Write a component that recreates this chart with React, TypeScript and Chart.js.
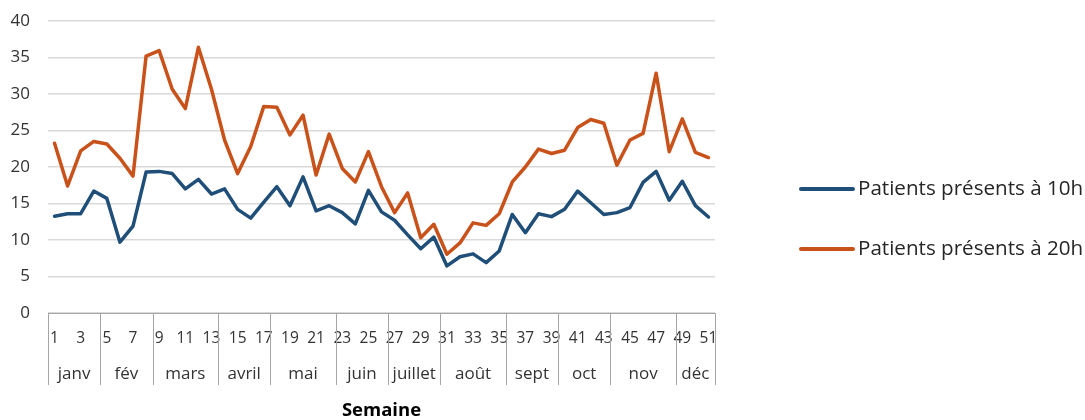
import React, { useEffect, useRef } from "react";
import { Chart, registerables } from "chart.js";

Chart.register(...registerables);

const weeks: string[] = Array.from({ length: 51 }, (_, i) => String(i + 1));

const months: string[] = ["janv", "fév", "mars", "avril", "mai", "juin", "juillet", "août", "sept", "oct", "nov", "déc"];
const monthWeekCounts: number[] = [4, 4, 5, 4, 5, 4, 4, 5, 4, 4, 5, 3];

const patients10h: number[] = [
  13.25, 13.6, 13.6, 16.7, 15.7, 9.7, 11.9, 19.3, 19.4, 19.1,
  17.0, 18.3, 16.3, 17.0, 14.2, 13.0, 15.2, 17.3, 14.7, 18.65,
  14.0, 14.7, 13.75, 12.2, 16.8, 13.85, 12.7, 10.7, 8.8, 10.4,
  6.45, 7.7, 8.1, 6.9, 8.5, 13.5, 11.0, 13.6, 13.2, 14.2,
  16.7, 15.1, 13.5, 13.75, 14.45, 17.9, 19.4, 15.45, 18.05, 14.7,
  13.15,
];

const patients20h: number[] = [
  23.25, 17.4, 22.2, 23.5, 23.15, 21.2, 18.75, 35.2, 35.95, 30.65,
  28.0, 36.4, 30.65, 23.7, 19.1, 22.8, 28.3, 28.2, 24.4, 27.1,
  18.9, 24.5, 19.8, 17.95, 22.1, 17.3, 13.75, 16.45, 10.3, 12.15,
  8.05, 9.6, 12.35, 12.0, 13.6, 17.95, 20.0, 22.45, 21.85, 22.3,
  25.4, 26.5, 26.0, 20.25, 23.7, 24.6, 32.85, 22.1, 26.6, 22.0,
  21.3,
];

const seriesLabels: string[] = ["Patients présents à 10h", "Patients présents à 20h"];
const seriesColors: string[] = ["#1F4E79", "#C9511A"];

const FONT = "'Open Sans', sans-serif";
const TEXT = "#333333";
const SEP = "#A6A6A6";

const monthAxisPlugin = {
  id: "monthAxis",
  afterDraw(chart: any) {
    const { ctx, chartArea } = chart;
    const x = chart.scales.x;
    const half = (x.getPixelForValue(1) - x.getPixelForValue(0)) / 2;
    const top = chartArea.bottom;
    const bottom = top + 72;
    ctx.save();
    ctx.strokeStyle = SEP;
    ctx.lineWidth = 1;
    let start = 0;
    const edges: number[] = [x.getPixelForValue(0) - half];
    monthWeekCounts.forEach((n) => {
      start += n;
      edges.push(x.getPixelForValue(start - 1) + half);
    });
    edges.forEach((px) => {
      const p = Math.round(px) + 0.5;
      ctx.beginPath();
      ctx.moveTo(p, top);
      ctx.lineTo(p, bottom);
      ctx.stroke();
    });
    ctx.fillStyle = TEXT;
    ctx.font = `17px ${FONT}`;
    ctx.textAlign = "center";
    ctx.textBaseline = "middle";
    months.forEach((m, i) => {
      ctx.fillText(m, (edges[i] + edges[i + 1]) / 2, top + 61);
    });
    ctx.restore();
  },
};

const legendPlugin = {
  id: "customLegend",
  afterDraw(chart: any) {
    const { ctx, chartArea } = chart;
    const x0 = chartArea.right + 86;
    const cy = chart.height / 2 + 9;
    ctx.save();
    chart.data.datasets.forEach((ds: any, i: number) => {
      const y = cy + (i === 0 ? -30 : 30);
      ctx.strokeStyle = ds.borderColor;
      ctx.lineWidth = 4;
      ctx.lineCap = "round";
      ctx.beginPath();
      ctx.moveTo(x0, y);
      ctx.lineTo(x0 + 52, y);
      ctx.stroke();
      ctx.fillStyle = "#262626";
      ctx.font = `20.6px ${FONT}`;
      ctx.textAlign = "left";
      ctx.textBaseline = "middle";
      ctx.fillText(ds.label, x0 + 57, y);
    });
    ctx.restore();
  },
};

export default function App() {
  const ref = useRef<HTMLCanvasElement | null>(null);
  useEffect(() => {
    document.body.style.margin = "0";
    if (!ref.current) return;
    const chart = new Chart(ref.current, {
      type: "line",
      data: {
        labels: weeks,
        datasets: [
          {
            label: seriesLabels[0],
            data: patients10h,
            borderColor: seriesColors[0],
            backgroundColor: seriesColors[0],
            borderWidth: 3.5,
            pointRadius: 0,
            tension: 0,
            borderJoinStyle: "round",
            borderCapStyle: "round",
          },
          {
            label: seriesLabels[1],
            data: patients20h,
            borderColor: seriesColors[1],
            backgroundColor: seriesColors[1],
            borderWidth: 3.5,
            pointRadius: 0,
            tension: 0,
            borderJoinStyle: "round",
            borderCapStyle: "round",
          },
        ],
      },
      options: {
        animation: false,
        responsive: false,
        maintainAspectRatio: false,
        layout: { autoPadding: false, padding: { top: 21, right: 370, bottom: 0, left: 0 } },
        plugins: { legend: { display: false }, tooltip: { enabled: false } },
        scales: {
          x: {
            type: "category",
            offset: true,
            grid: { display: false, drawTicks: false },
            border: { display: true, color: SEP, width: 1 },
            ticks: {
              autoSkip: false,
              maxRotation: 0,
              minRotation: 0,
              padding: 16,
              color: TEXT,
              font: { family: FONT, size: 15.5 },
              callback: (_v: any, i: number) => (i % 2 === 0 ? weeks[i] : ""),
            },
            title: {
              display: true,
              text: "Semaine",
              color: "#000",
              font: { family: FONT, size: 18.5, weight: "bold" },
              padding: { top: 0, bottom: -2 },
            },
            afterFit: (s: any) => {
              s.height = 107;
              s.paddingLeft = 0;
              s.paddingRight = 0;
            },
          },
          y: {
            min: 0,
            max: 40,
            ticks: {
              stepSize: 5,
              padding: 18,
              color: TEXT,
              font: { family: FONT, size: 17 },
            },
            grid: { color: "#D9D9D9", lineWidth: 1.5, drawTicks: false },
            border: { display: false },
            afterFit: (s: any) => {
              s.width = 48;
              s.paddingTop = 0;
              s.paddingBottom = 0;
            },
          },
        },
      },
      plugins: [monthAxisPlugin, legendPlugin],
    });
    return () => chart.destroy();
  }, []);
  return <canvas ref={ref} width={1085} height={420} style={{ display: "block" }} />;
}
